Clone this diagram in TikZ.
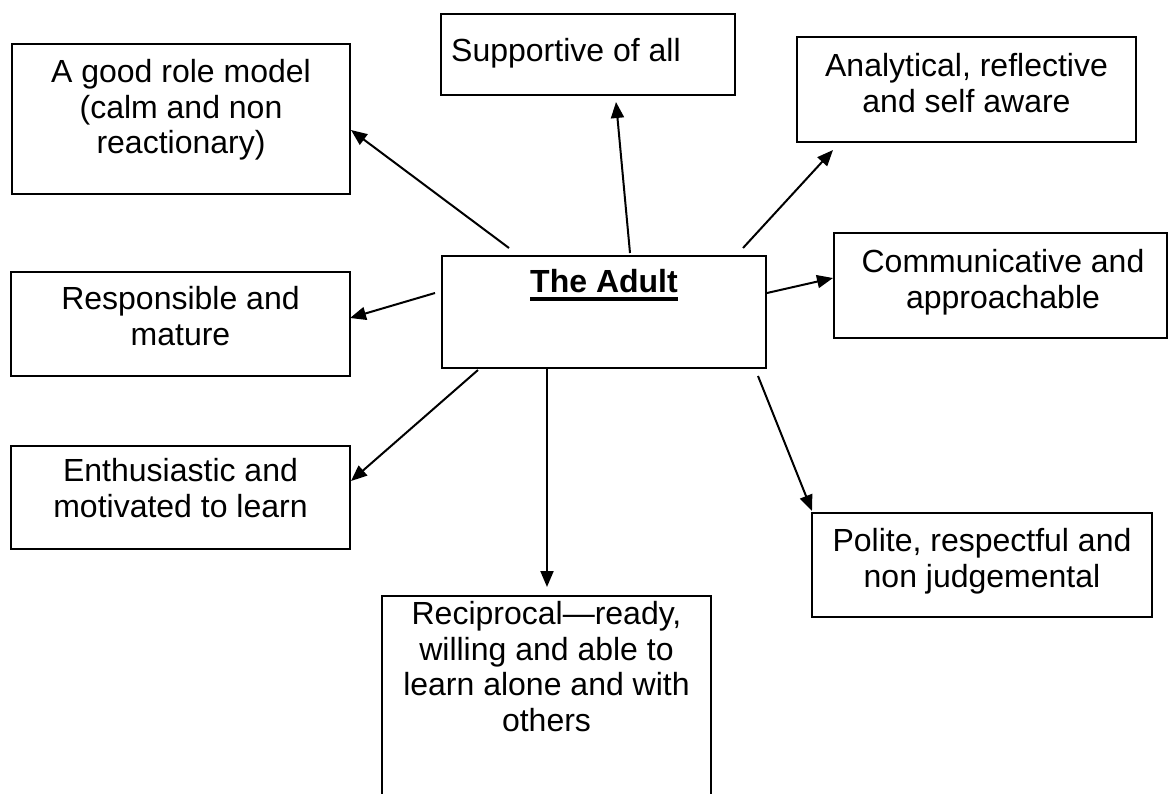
\documentclass[tikz,border=0pt]{standalone}
\usepackage{fontspec}
\setmainfont{Liberation Sans}
\usetikzlibrary{arrows.meta}
\newcommand\myunderline[1]{\setbox0\hbox{#1}\rlap{\rule[-8pt]{\wd0}{3.5pt}}\box0}
\begin{document}
\begin{tikzpicture}[x=1pt,y=-1pt,
  bx/.style={draw=black,line width=2.8pt,inner sep=0pt,rectangle},
  txt/.style={font=\fontsize{32}{35.5}\selectfont,align=center,inner sep=0pt,anchor=north},
  arr/.style={line width=2pt,-{Triangle[length=16pt,width=13pt]}}]
\useasboundingbox (0,0) rectangle (1170,793);
% boxes
\node[bx,minimum width=338,minimum height=150] (role) at (181,119) {};
\node[bx,minimum width=294,minimum height=81] (supp) at (588,54.5) {};
\node[bx,minimum width=339,minimum height=105] (anal) at (966.5,89.5) {};
\node[bx,minimum width=333,minimum height=105] (comm) at (1000.5,285.5) {};
\node[bx,minimum width=324,minimum height=112] (adult) at (604,312) {};
\node[bx,minimum width=339,minimum height=104] (resp) at (180.5,324) {};
\node[bx,minimum width=339,minimum height=103] (enth) at (180.5,497.5) {};
\node[bx,minimum width=340,minimum height=104] (pol) at (982,565) {};
\node[bx,minimum width=329,minimum height=214] (rec) at (546.5,703) {};
% texts
\node[txt] (troles) at (181,57.8) {\strut A good role model\\(calm and non\\reactionary)};
\node[txt,anchor=north west] (tsupp) at (451,36.8) {\strut Supportive of all};
\node[txt] (tanal) at (966.5,51.8) {\strut Analytical, reflective\\and self aware};
\node[txt] (tcomm) at (1003,247.8) {\strut Communicative and\\approachable};
\node[txt] (tadult) at (604,267.8) {\strut\bfseries\myunderline{The Adult}};
\node[txt] (tresp) at (180.5,284.8) {\strut Responsible and\\mature};
\node[txt] (tenth) at (180.5,456.8) {\strut Enthusiastic and\\motivated to learn};
\node[txt] (tpol) at (982,526.8) {\strut Polite, respectful and\\non judgemental};
\node[txt] (trec) at (546.5,599.8) {\strut Reciprocal—ready,\\willing and able to\\learn alone and with\\others};
% connector end points
\coordinate (s1) at (509,248); \coordinate (e1) at (351,130);
\coordinate (s2) at (630,253); \coordinate (e2) at (616,102);
\coordinate (s3) at (743,248); \coordinate (e3) at (833,150);
\coordinate (s4) at (767,293); \coordinate (e4) at (833,278);
\coordinate (s5) at (435,293); \coordinate (e5) at (350,318);
\coordinate (s6) at (478,370); \coordinate (e6) at (351,481);
\coordinate (s7) at (547,369); \coordinate (e7) at (547,587);
\coordinate (s8) at (758,376); \coordinate (e8) at (812,511);
\draw[arr] (s1) -- (e1);
\draw[arr] (s2) -- (e2);
\draw[arr] (s3) -- (e3);
\draw[arr] (s4) -- (e4);
\draw[arr] (s5) -- (e5);
\draw[arr] (s6) -- (e6);
\draw[arr] (s7) -- (e7);
\draw[arr] (s8) -- (e8);
\end{tikzpicture}
\end{document}
